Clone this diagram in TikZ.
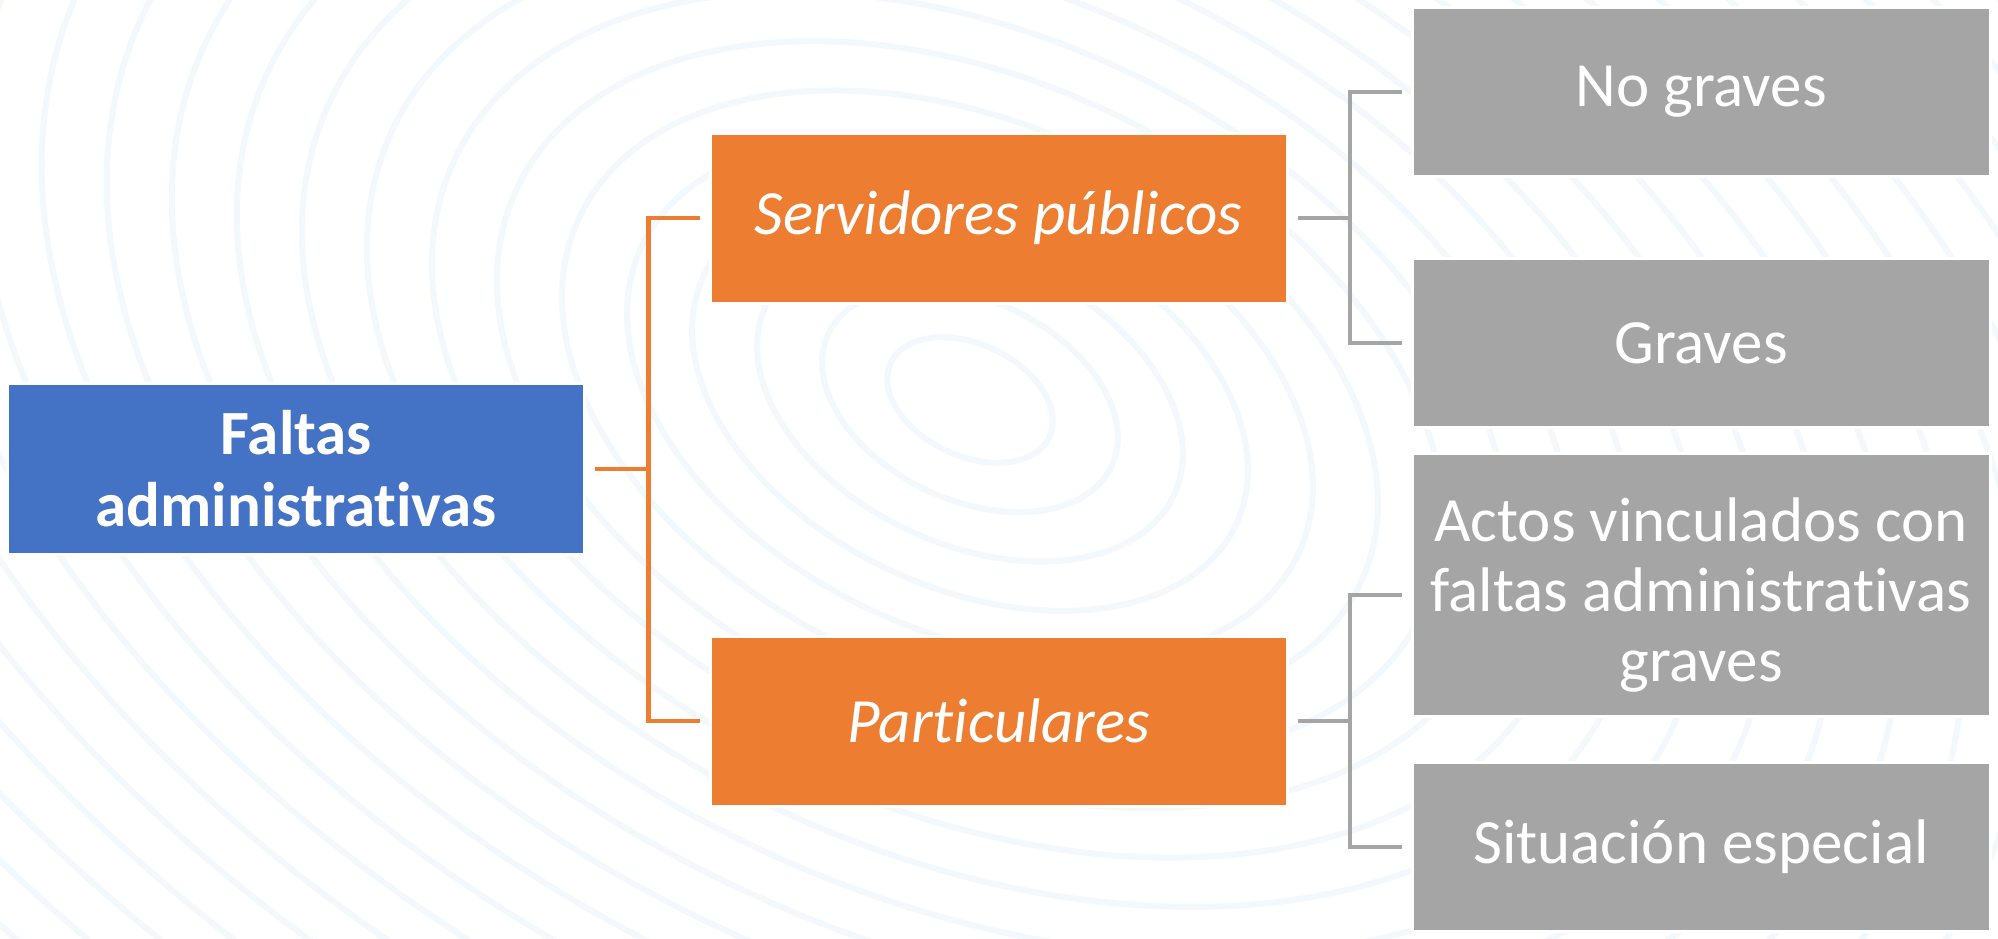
\documentclass[tikz,border=0pt]{standalone}
\usepackage{fontspec}
\setmainfont[Ligatures={NoCommon,NoContextual,NoRare}]{Carlito}
\definecolor{cblue}{HTML}{4472C4}
\definecolor{corange}{HTML}{ED7D31}
\definecolor{cgray}{HTML}{A5A5A5}
\definecolor{cbg}{HTML}{F3F8FC}
\tikzset{
  basebox/.style={draw=white, line width=3pt, inner sep=0pt, text=white, align=center,
    font=\fontsize{63}{70}\selectfont},
  bluebox/.style={basebox, fill=cblue, minimum width=577pt, minimum height=171pt, font=\fontsize{63}{72}\selectfont\bfseries},
  orangebox/.style={basebox, fill=corange, minimum width=577pt, minimum height=170pt, font=\fontsize{63}{70}\selectfont\itshape},
  graybox/.style={basebox, fill=cgray, minimum width=578pt, minimum height=169pt},
  oline/.style={draw=corange, line width=4.5pt},
  gline/.style={draw=cgray, line width=4.5pt},
  bgline/.style={draw=cbg, line width=6pt},
}
\begin{document}
\begin{tikzpicture}[x=1pt,y=-1pt]
\useasboundingbox (0,0) rectangle (1998,938);
\fill[white] (0,0) rectangle (1998,938);
\begin{scope}
\clip (0,0) rectangle (1998,938);
\foreach \r in {70,125,...,1500}
  \draw[bgline, rotate around={-25:(970,400)}] (970,400) ellipse ({\r*1.25} and {\r*0.8});
\end{scope}
% nodes
\node[bluebox] (fa) at (296.3,469) {Faltas\\administrativas};
\node[orangebox] (sp) at (998.5,218) {Servidores públicos};
\node[orangebox] (pa) at (998.5,721) {Particulares};
\node[graybox] (ng) at (1701,92) {No graves};
\node[graybox] (gr) at (1701,343) {Graves};
\node[graybox, minimum height=263pt] (av) at (1701,585) {\rule{0pt}{64pt}Actos vinculados con\\faltas administrativas\\graves};
\node[graybox] (se) at (1701,847) {Situación especial};
% junctions
\coordinate (j1) at (648.6,469);
\coordinate (j2) at (1350,218);
\coordinate (j3) at (1350,721);
% orange connectors
\draw[oline, shorten <=9pt] (fa.east) -- (j1);
\draw[oline, shorten >=9pt] (j1) |- (sp.west);
\draw[oline, shorten >=9pt] (j1) |- (pa.west);
% gray connectors
\draw[gline, shorten <=9pt] (sp.east) -- (j2);
\draw[gline, shorten >=9pt] (j2) |- (ng.west);
\draw[gline, shorten >=9pt] (j2) |- (gr.west);
\draw[gline, shorten <=9pt] (pa.east) -- (j3);
\draw[gline, shorten >=9pt] (j3) |- ([yshift=-10pt]av.west);
\draw[gline, shorten >=9pt] (j3) |- (se.west);
\end{tikzpicture}
\end{document}
